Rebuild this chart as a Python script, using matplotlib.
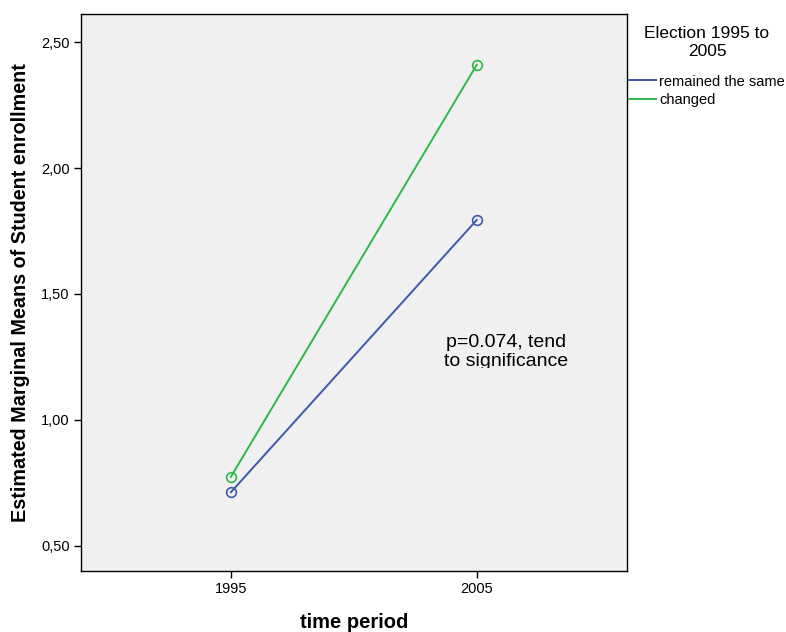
import matplotlib.pyplot as plt
from matplotlib.lines import Line2D
from matplotlib.transforms import Bbox

plt.rcParams["font.family"] = ["Liberation Sans", "DejaVu Sans"]

W, H = 786, 632

periods = ["1995", "2005"]
series_names = ["remained the same", "changed"]
remained_same = [0.713, 1.794]
changed = [0.774, 2.410]
colors = ["#3E58AC", "#2EB848"]

fig = plt.figure(figsize=(W / 100, H / 100), dpi=100)
ax = fig.add_axes([0.103, 0.0965, 0.695, 0.8815])
ax.set_facecolor("#F0F0F0")

xpos = list(range(len(periods)))
for vals, c in zip([remained_same, changed], colors):
    ax.plot(xpos, vals, color=c, lw=1.4, marker="o", markersize=7,
            markerfacecolor="none", markeredgecolor=c, markeredgewidth=1.2)

ax.set_xlim(-0.61, 1.612)
ax.set_ylim(0.40, 2.612)
ax.set_xticks(xpos)
ax.set_xticklabels(periods, fontsize=10.5)
yt = [0.5, 1.0, 1.5, 2.0, 2.5]
ax.set_yticks(yt)
ax.set_yticklabels([f"{v:.2f}".replace(".", ",") for v in yt], fontsize=10.5)
ax.tick_params(direction="out", length=5, width=1, pad=3)
for s in ax.spines.values():
    s.set_linewidth(1.0)

ax.set_xlabel("time period", fontsize=14.5, fontweight="bold", labelpad=12)
ax.set_ylabel("Estimated Marginal Means of Student enrollment", fontsize=14.2,
              fontweight="bold", labelpad=8)

# note text, cut off just under the second line
note = ax.text(1.12, 1.27, "p=0.074, tend\nto significance", ha="center",
               va="center", fontsize=14, linespacing=1.1)
note.set_clip_box(Bbox.from_extents(0, H - 368, W, H))
note.set_clip_on(True)

# legend: centred title plus line entries
fig.text(707 / W, 1 - 42.5 / H, "Election 1995 to\n2005", ha="center",
         va="center", fontsize=12.5, linespacing=1.3)
handles = [Line2D([0], [0], color=c, lw=1.4) for c in colors]
ax.legend(handles, series_names, loc="upper left",
          bbox_to_anchor=(629 / W, 1 - 74.5 / H),
          bbox_transform=fig.transFigure, frameon=False, fontsize=10.5,
          handlelength=1.85, handletextpad=0.2, labelspacing=0.3,
          borderaxespad=0, borderpad=0)

fig.savefig("out.png", dpi=100)
